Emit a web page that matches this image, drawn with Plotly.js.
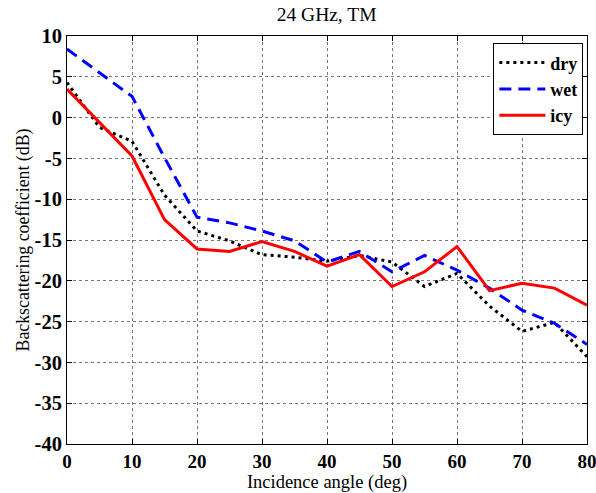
<!DOCTYPE html>
<html>
<head>
<meta charset="utf-8">
<script src="https://cdn.plot.ly/plotly-3.0.1.min.js"></script>
<style>html,body{margin:0;padding:0;background:#fff;}#chart{width:596px;height:493px;}</style>
</head>
<body>
<div id="chart"></div>
<script>
const angles = [0, 5, 10, 15, 20, 25, 30, 35, 40, 45, 50, 55, 60, 65, 70, 75, 80];
const dry = [4.3, -1.2, -2.9, -9.5, -13.9, -15.1, -16.8, -17.1, -17.6, -16.9, -17.7, -20.7, -19.1, -23.1, -26.2, -25.1, -29.3];
const wet = [8.4, 5.5, 2.6, -4.9, -12.2, -12.9, -13.9, -15.1, -17.7, -16.4, -18.9, -16.9, -18.7, -20.9, -23.6, -25.2, -27.8];
const icy = [3.5, -0.6, -4.7, -12.5, -16.1, -16.4, -15.2, -16.4, -18.2, -16.8, -20.7, -18.9, -15.8, -21.2, -20.3, -20.9, -23.0];
const seriesNames = ['dry', 'wet', 'icy'];
const xTicks = [0, 10, 20, 30, 40, 50, 60, 70, 80];
const yTicks = [10, 5, 0, -5, -10, -15, -20, -25, -30, -35, -40];

const serif = '"Liberation Serif", "Times New Roman", serif';
const traces = [
  {x: angles, y: dry, name: seriesNames[0], mode: 'lines', line: {color: '#000000', width: 3, dash: '3px,4px'}},
  {x: angles, y: wet, name: seriesNames[1], mode: 'lines', line: {color: '#0000ff', width: 3, dash: '12px,7px'}},
  {x: angles, y: icy, name: seriesNames[2], mode: 'lines', line: {color: '#ff0000', width: 3}}
];
const axisCommon = {
  showline: true, linecolor: '#000', linewidth: 1, mirror: 'ticks',
  ticks: 'inside', ticklen: 5, tickcolor: '#000',
  showgrid: true, gridcolor: '#777', griddash: 'dot', gridwidth: 1,
  zeroline: false, ticklabeloverflow: 'allow'
};
const layout = {
  width: 596, height: 493,
  margin: {l: 67, r: 9, t: 36, b: 49},
  paper_bgcolor: '#fff', plot_bgcolor: '#fff',
  title: {text: '24 GHz, TM', font: {family: serif, size: 19.5, color: '#000'}, x: 0.548, xanchor: 'center', y: 0.972, yanchor: 'middle'},
  xaxis: Object.assign({}, axisCommon, {
    range: [0, 80], tickvals: xTicks, ticktext: xTicks.map(String),
    tickfont: {family: serif, size: 19, color: '#000', weight: 700},
    title: {text: 'Incidence angle (deg)', font: {family: serif, size: 18.5, color: '#000'}, standoff: 0}
  }),
  yaxis: Object.assign({}, axisCommon, {
    range: [-40, 10], tickvals: yTicks, ticktext: yTicks.map(String),
    tickfont: {family: serif, size: 20.5, color: '#000', weight: 700},
    title: {text: 'Backscattering coefficient (dB)', font: {family: serif, size: 17.8, color: '#000'}, standoff: 0}
  }),
  showlegend: true,
  legend: {
    x: 0.993, xanchor: 'right', y: 0.982, yanchor: 'top',
    bgcolor: '#fff', bordercolor: '#000', borderwidth: 1,
    font: {family: serif, size: 18, color: '#000', weight: 700},
    tracegroupgap: 0, itemwidth: 46
  }
};
Plotly.newPlot('chart', traces, layout, {displayModeBar: false, staticPlot: true});
</script>
</body>
</html>
